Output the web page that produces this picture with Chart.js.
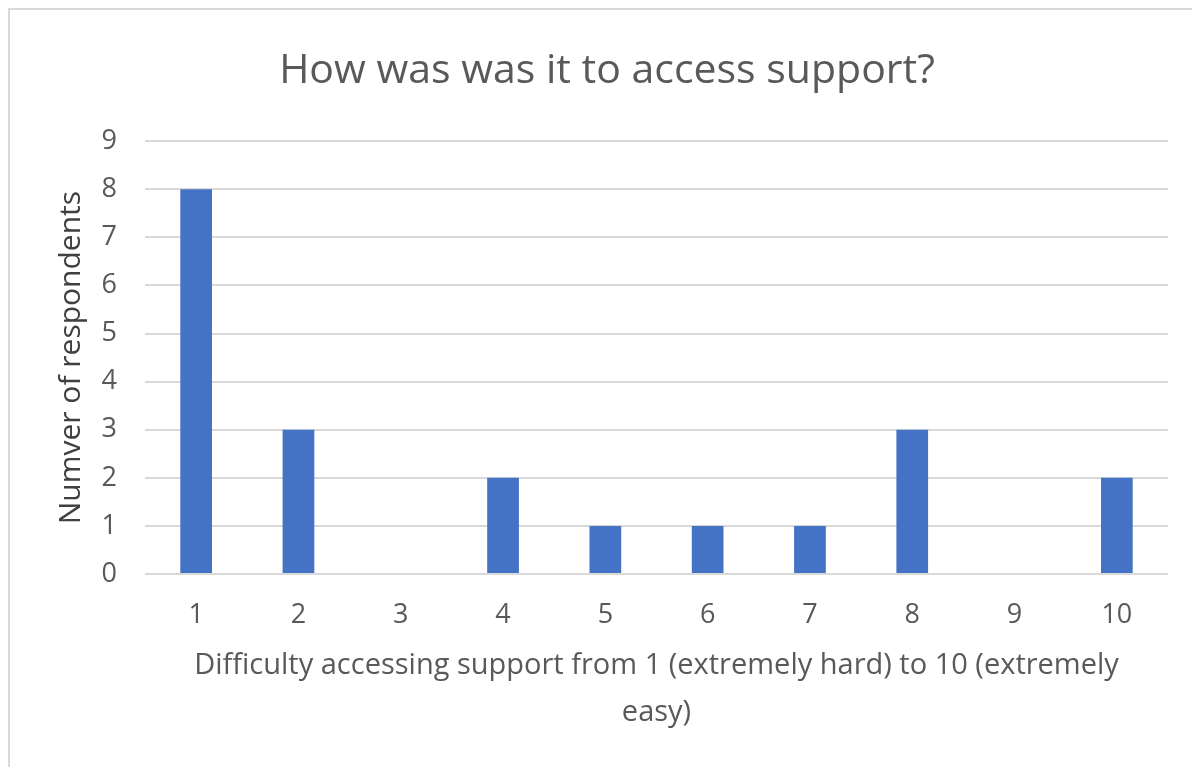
<!DOCTYPE html>
<html>
<head>
<meta charset="utf-8">
<script src="https://cdn.jsdelivr.net/npm/chart.js@4/dist/chart.umd.min.js"></script>
<style>
    html, body { margin: 0; padding: 0; background: #fff; overflow: hidden; }
    #frame {
        position: absolute;
        left: 8px;
        top: 8px;
        width: 1184px;
        height: 759px;
        border-left: 2px solid #d9d9d9;
        border-top: 2px solid #d9d9d9;
    }
</style>
</head>
<body>
<div id="frame"><canvas id="myChart"></canvas></div>
<script>
'use strict';

let categories = ['1', '2', '3', '4', '5', '6', '7', '8', '9', '10'];
let respondents = [8, 3, 0, 2, 1, 1, 1, 3, 0, 2];
let yTicks = [0, 1, 2, 3, 4, 5, 6, 7, 8, 9];

let chartTitle = 'How was was it to access support?';
let xTitle = ['Difficulty accessing support from 1 (extremely hard) to 10 (extremely', 'easy)'];
let yTitle = 'Numver of respondents';

let textGrey = '#595959';
let fontName = '"Open Sans", sans-serif';

function chartRender() {
    let ctx = document.getElementById('myChart').getContext('2d');

    Chart.defaults.font.family = fontName;
    Chart.defaults.color = textGrey;

    let myChart = new Chart(ctx, {
        type: 'bar',
        data: {
            labels: categories,
            datasets: [{
                label: 'Respondents',
                data: respondents,
                backgroundColor: '#4472c4',
                borderWidth: 0,
                categoryPercentage: 1,
                barPercentage: 0.31
            }]
        },
        options: {
            responsive: true,
            maintainAspectRatio: false,
            animation: false,
            layout: {
                padding: { left: 36, right: 26, top: 0, bottom: 0 }
            },
            plugins: {
                legend: { display: false },
                tooltip: { enabled: false },
                title: {
                    display: true,
                    text: chartTitle,
                    color: textGrey,
                    font: { size: 41, weight: 'normal', lineHeight: 1.2 },
                    padding: { top: 37, bottom: 45 }
                }
            },
            scales: {
                x: {
                    grid: { display: false },
                    border: { display: false },
                    ticks: {
                        color: textGrey,
                        font: { size: 27 },
                        padding: 17
                    },
                    title: {
                        display: true,
                        text: xTitle,
                        color: textGrey,
                        font: { size: 29, lineHeight: '47px' },
                        padding: { top: 0, bottom: 33 }
                    },
                    afterFit: function (scale) {
                        scale.height = 195;
                    }
                },
                y: {
                    min: 0,
                    max: 9,
                    afterBuildTicks: function (scale) {
                        scale.ticks = yTicks.map(function (v) { return { value: v }; });
                    },
                    grid: {
                        color: '#d9d9d9',
                        lineWidth: 2,
                        drawTicks: false
                    },
                    border: { display: false },
                    ticks: {
                        color: textGrey,
                        font: { size: 27 },
                        padding: 28
                    },
                    title: {
                        display: true,
                        text: yTitle,
                        color: '#404040',
                        font: { size: 30, lineHeight: 1.2 },
                        padding: { top: 7, bottom: 0 }
                    },
                    afterFit: function (scale) {
                        scale.width = 99;
                    }
                }
            }
        }
    });
}

chartRender();
</script>
</body>
</html>
